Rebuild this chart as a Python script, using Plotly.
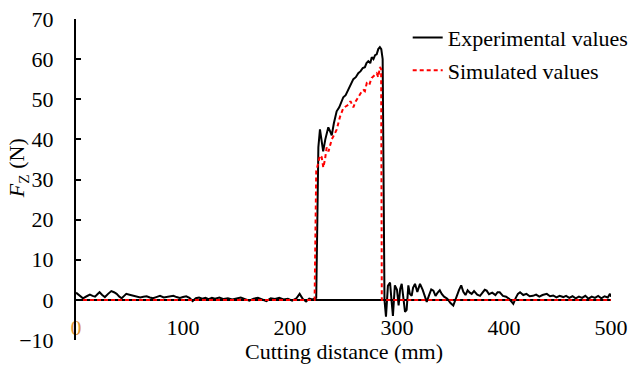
import plotly.graph_objects as go

# ---------------- data ----------------
exp_x = [0, 3, 6.5, 10, 13, 15.5, 17.8, 20, 22, 24.5, 27, 30, 33, 35.5, 38, 40.5, 42.7, 45, 47, 50,
         53, 56, 60, 63, 66, 69, 72, 75, 78.5, 82, 85, 88, 91, 94, 97, 100, 103, 106, 109, 112,
         115, 118, 121, 124, 127, 130, 134, 138, 142, 146, 150, 154, 158, 162, 166, 170, 174, 178,
         182, 186, 190, 194, 198, 202, 206, 209, 212, 215, 218, 221, 224.5,
         226.5, 228, 229.5, 231, 233, 235.8, 237.5, 239, 241, 243.6, 246, 248, 249.8, 252, 254.5,
         256.5, 259.2, 261.5, 263.8, 266, 268, 270, 271.5, 273.2, 275, 276.4, 278, 279.5, 281,
         282.5, 284, 285.3, 286.6,
         288.3, 289.7, 291.5, 293.5, 295, 296.2, 298, 300, 301.5, 303, 304.4, 306, 307.5, 309,
         310.6, 312, 313.7, 315, 316.8, 319, 321.5, 324, 326, 327.8, 330, 332, 334, 336, 338, 340,
         341.8, 344, 347, 350, 352.6, 355, 358, 360, 362, 364, 366, 368, 369.8, 372, 375, 377.6,
         380, 382, 383.8, 386, 389, 392, 394, 396, 399, 402, 405, 408.7, 411, 413, 415, 418, 421,
         424, 427, 430, 433, 436, 440, 443, 446, 449, 452, 455.4, 458, 461, 464, 467, 470, 473,
         476, 479, 482, 485, 488, 491, 494, 497, 499, 500]
exp_y = [1.8, 1.2, 0.4, 0.9, 1.3, 1.0, 0.8, 1.4, 1.9, 1.2, 0.7, 1.5, 2.2, 1.9, 1.5, 0.8, 0.4, 1.0, 1.5, 1.3,
         1.1, 1.0, 0.6, 0.8, 0.9, 0.6, 0.4, 0.7, 1.0, 0.6, 0.7, 0.9, 1.0, 0.7, 0.5, 0.7, 0.9, 0.5, -0.3, 0.4,
         0.6, 0.3, 0.5, 0.2, 0.5, 0.3, 0.6, 0.2, 0.4, 0.1, 0.3, 0.6, 0.2, -0.2, 0.3, 0.5, 0.1, -0.3,
         0.4, 0.2, 0.5, 0.1, 0.3, -0.2, 0.4, 1.5, 0.2, -0.4, 0.3, 0.1, 0.5,
         38, 42.5, 39, 37, 40, 43, 42, 41, 44, 47, 48, 49.5, 50.5, 51, 52.5,
         53.5, 55, 55.5, 56.5, 57, 57.8, 58, 59, 59.5, 59, 60.5, 60, 61, 61.2,
         62.5, 63, 62.5, 60,
         0, -4.2, 3.5, 4.3, -0.5, -4.0, 3.6, 2.5, -1.4, 2.8, 4.0, 1.0, -3.0, -2.5,
         3.6, 1.5, 1.0, 3.0, 4.0, 2.0, 4.0, 2.5, 1.0, -0.5, 1.2, 2.6, 2.3, 1.0, 1.8, 2.4,
         1.5, 0.8, 0.3, -0.8, -1.4, 0.5, 2.5, 3.6, 2.0, 1.2, 2.4, 1.8, 1.5, 2.2, 1.3, 1.0,
         1.8, 2.5, 2.3, 1.4, 1.8, 1.2, 1.9, 1.9, 1.0, 0.8, 0.2, -1.0, 0.5, 1.5, 1.9, 1.2, 1.5,
         0.9, 1.0, 1.3, 0.8, 1.2, 1.5, 0.9, 1.1, 0.6, 1.0, 0.7, 1.0, 0.5, 0.9, 0.4, 0.8, 0.5,
         1.0, 0.3, 0.8, 0.5, 1.0, 0.4, 0.9, 0.6, 1.5, 0.8]

sim_x = [0, 223, 224.5, 226.5, 228, 229.6, 231.1, 232.7, 234.3, 236, 239, 241, 243.6, 246.7,
         249.8, 252, 254.5, 256.5, 259.2, 261.5, 263.8, 266, 268.5, 270, 271.7, 274, 276.3,
         278.5, 281, 282.5, 284, 285.2, 285.8, 500]
sim_y = [0, 0, 32, 34, 36, 35.6, 33, 35, 38, 37, 40, 41, 42.4, 45.6,
         47.8, 48.2, 48.6, 49.5, 48, 49.5, 50.6, 51.5, 52.3, 52, 54, 53.5, 55.3,
         55.8, 56.5, 55.5, 58, 57.5, 0, 0]

x_ticks = [0, 100, 200, 300, 400, 500]
x_ticktext = ['<span style="color:#E0953A">0</span>', '100', '200', '300', '400', '500']
y_ticks = [-10, 0, 10, 20, 30, 40, 50, 60, 70]

FONT = "Liberation Serif"
FS = 22

fig = go.Figure()
fig.add_trace(go.Scatter(x=exp_x, y=exp_y, mode="lines", name="Experimental values",
                         legendgroup="a",
                         line=dict(color="black", width=2)))
fig.add_trace(go.Scatter(x=sim_x, y=sim_y, mode="lines", name="Simulated values",
                         legendgroup="b",
                         line=dict(color="#FF0000", width=2, dash="4px,3px")))

fig.update_layout(
    width=643, height=372,
    margin=dict(l=76, r=32, t=19, b=32, autoexpand=False),
    paper_bgcolor="white", plot_bgcolor="white",
    font=dict(family=FONT, size=FS, color="black"),
    showlegend=True,
    legend=dict(x=0.62, y=1.007, xanchor="left", yanchor="top",
                bgcolor="rgba(0,0,0,0)", borderwidth=0,
                font=dict(family=FONT, size=FS, color="black"),
                tracegroupgap=1),
    xaxis=dict(range=[0, 500], tickvals=x_ticks, ticktext=x_ticktext,
               showgrid=False, zeroline=False, showline=True, linecolor="black",
               linewidth=2, ticks="", anchor="free", position=(10 / 80),
               layer="below traces", ticklabelstandoff=8, automargin=False,
               tickfont=dict(family=FONT, size=FS, color="black")),
    yaxis=dict(range=[-10, 70], tickvals=y_ticks, showgrid=False, zeroline=False,
               showline=True, linecolor="black", linewidth=2, ticks="inside",
               ticklen=5, tickwidth=1.5, tickcolor="black", ticklabelstandoff=16,
               automargin=False,
               tickfont=dict(family=FONT, size=FS, color="black")),
    annotations=[
        dict(text="Cutting distance (mm)", xref="paper", yref="paper",
             x=0.5, y=-0.036, xanchor="center", yanchor="middle", showarrow=False,
             font=dict(family=FONT, size=FS, color="black")),
        dict(text="<i>F</i><sub>Z</sub> (N)", xref="paper", yref="paper",
             x=-0.108, y=0.536, xanchor="center", yanchor="middle", showarrow=False,
             textangle=-90, font=dict(family=FONT, size=FS, color="black")),
    ],
)

fig.write_html("out.html")
